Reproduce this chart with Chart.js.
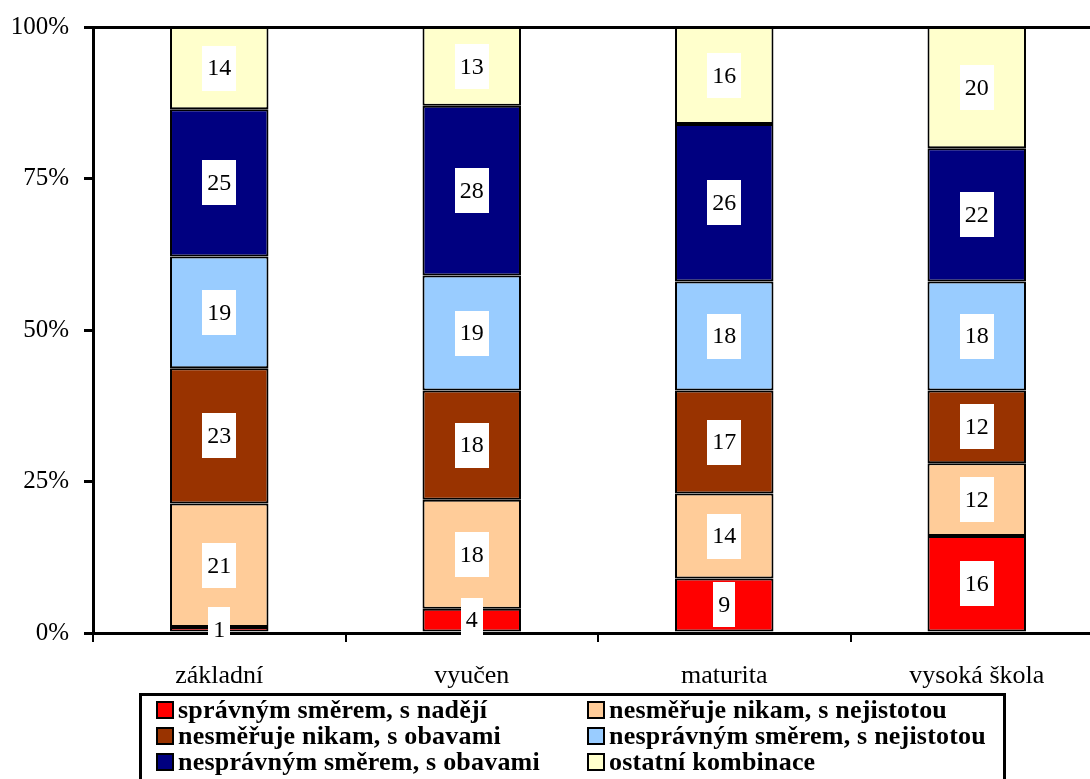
<!DOCTYPE html>
<html>
<head>
<meta charset="utf-8">
<script src="https://cdn.jsdelivr.net/npm/chart.js@4.4.1/dist/chart.umd.min.js"></script>
<style>
  html, body { margin: 0; padding: 0; background: #fff; overflow: hidden; }
  #wrap { position: relative; width: 1110px; height: 779px; }
  #legend {
    position: absolute; left: 139px; top: 693px;
    border: 3px solid #000; box-sizing: border-box; width: 867px; height: 110px;
    font-family: "Liberation Serif", "Times New Roman", serif;
    font-weight: bold; font-size: 26px; color: #000;
    display: grid; grid-template-columns: 431px auto; grid-auto-rows: 26px;
    padding: 1px 0 0 14px;
  }
  #legend .item { display: flex; align-items: center; white-space: nowrap; letter-spacing: 0.2px; line-height: 26px; }
  #legend .sw { width: 14px; height: 14px; border: 2px solid #000; margin-right: 4px; flex: none; }
</style>
</head>
<body>
<div id="wrap">
  <canvas id="chart" width="1110" height="779"></canvas>
  <div id="legend"></div>
</div>
<script>
// Data
const categories = ['základní', 'vyučen', 'maturita', 'vysoká škola'];
const seriesNames = [
  'správným směrem, s nadějí',
  'nesměřuje nikam, s nejistotou',
  'nesměřuje nikam, s obavami',
  'nesprávným směrem, s nejistotou',
  'nesprávným směrem, s obavami',
  'ostatní kombinace'
];
const spravnymNadeji = [1, 4, 9, 16];
const nesmerujeNejistotou = [21, 18, 14, 12];
const nesmerujeObavami = [23, 18, 17, 12];
const nespravnymNejistotou = [19, 19, 18, 18];
const nespravnymObavami = [25, 28, 26, 22];
const ostatni = [14, 13, 16, 20];
const yTicks = [0, 25, 50, 75, 100];

const seriesValues = [spravnymNadeji, nesmerujeNejistotou, nesmerujeObavami,
  nespravnymNejistotou, nespravnymObavami, ostatni];
const colors = ['#FF0000', '#FFCC99', '#993300', '#99CCFF', '#000080', '#FFFFCC'];

// 100% stacked: share of each category total
const totals = categories.map((c, i) => seriesValues.reduce((s, arr) => s + arr[i], 0));

const datasets = seriesValues.map((vals, k) => ({
  label: seriesNames[k],
  data: vals.map((v, i) => v / totals[i] * 100),
  raw: vals,
  backgroundColor: colors[k],
  borderColor: '#000',
  borderWidth: 2,
  borderSkipped: false,
  barPercentage: 0.39,
  categoryPercentage: 1
}));

const font = "'Liberation Serif', 'Times New Roman', serif";

// white boxes with the values
const valueLabels = {
  id: 'valueLabels',
  afterDatasetsDraw(chart) {
    const c = chart.ctx;
    c.save();
    c.font = '24px ' + font;
    c.textAlign = 'center';
    c.textBaseline = 'middle';
    chart.data.datasets.forEach((ds, k) => {
      chart.getDatasetMeta(k).data.forEach((bar, i) => {
        const txt = String(ds.raw[i]);
        const w = c.measureText(txt).width + 10;
        const h = 45;
        const cy = (bar.y + bar.base) / 2;
        c.fillStyle = '#fff';
        c.fillRect(Math.round(bar.x - w / 2), Math.round(cy - h / 2), Math.round(w), h);
        c.fillStyle = '#000';
        c.fillText(txt, bar.x, cy + 1);
      });
    });
    c.restore();
  }
};

new Chart(document.getElementById('chart'), {
  type: 'bar',
  data: { labels: categories, datasets: datasets },
  options: {
    responsive: false,
    animation: false,
    layout: { padding: { top: 27, right: 7, left: 0, bottom: 0 } },
    plugins: { legend: { display: false }, tooltip: { enabled: false } },
    scales: {
      x: {
        stacked: true,
        afterFit(scale) { scale.height = 146; scale.paddingLeft = 0; scale.paddingRight = 0; },
        border: { display: true, color: '#000', width: 3 },
        grid: { offset: true, drawOnChartArea: false, color: '#000', lineWidth: 2, tickLength: 9 },
        ticks: { color: '#000', padding: 19, font: { family: font, size: 26 } }
      },
      y: {
        stacked: true,
        min: 0,
        max: 100,
        afterFit(scale) { scale.width = 93; scale.paddingTop = 0; scale.paddingBottom = 0; },
        afterBuildTicks(scale) { scale.ticks = yTicks.map(v => ({ value: v })); },
        border: { display: true, color: '#000', width: 3 },
        grid: {
          color: ctx => (ctx.tick && ctx.tick.value === 100) ? '#000' : 'rgba(0,0,0,0)',
          tickColor: '#000',
          lineWidth: 3,
          tickLength: 9
        },
        ticks: { color: '#000', padding: 15, font: { family: font, size: 25 }, callback: v => v + '%' }
      }
    }
  },
  plugins: [valueLabels]
});

// legend in two columns
const legend = document.getElementById('legend');
seriesNames.forEach((name, k) => {
  const item = document.createElement('div');
  item.className = 'item';
  const sw = document.createElement('span');
  sw.className = 'sw';
  sw.style.background = colors[k];
  item.appendChild(sw);
  item.appendChild(document.createTextNode(name));
  legend.appendChild(item);
});
</script>
</body>
</html>
